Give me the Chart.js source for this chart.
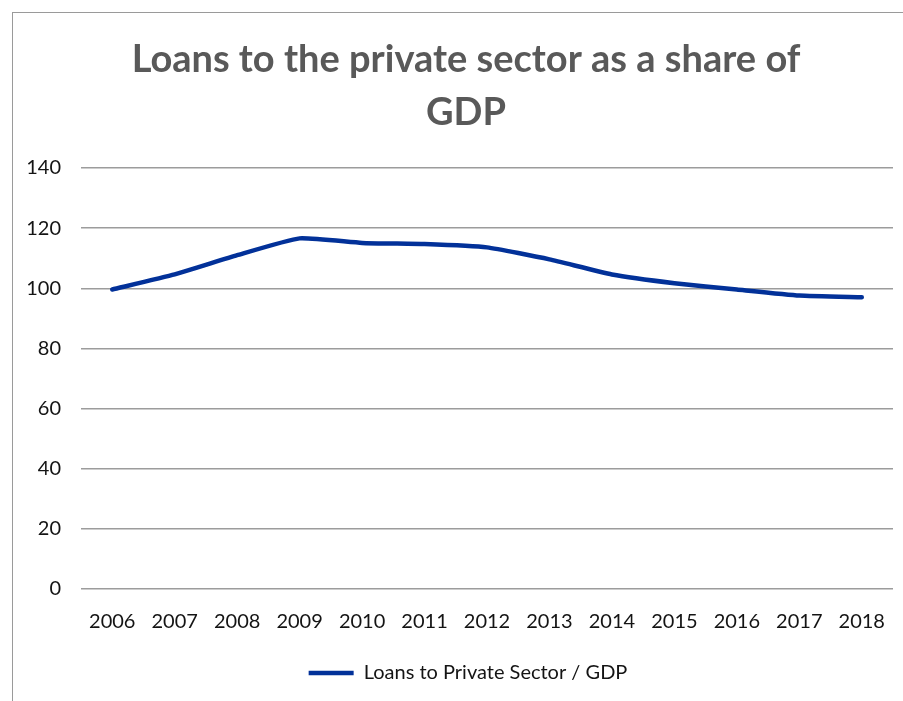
<!DOCTYPE html>
<html>
<head>
<meta charset="utf-8">
<script src="https://cdn.jsdelivr.net/npm/chart.js@4.4.1/dist/chart.umd.min.js"></script>
<style>
  html, body { margin: 0; padding: 0; background: #fff; }
  #wrap { position: relative; width: 903px; height: 701px; overflow: hidden; }
  #frame {
    position: absolute; left: 12px; top: 12px; right: -4px; bottom: -4px;
    border-left: 1.5px solid #9a9a9a; border-top: 1.5px solid #9a9a9a;
    pointer-events: none;
  }
  canvas { position: absolute; left: 0; top: 0; }
</style>
</head>
<body>
<div id="wrap">
  <!-- canvas runs past the right edge so the legend centres where the frame's middle is -->
  <canvas id="loans" width="941" height="701"></canvas>
  <div id="frame"></div>
</div>
<script>
const years = ['2006', '2007', '2008', '2009', '2010', '2011', '2012', '2013', '2014', '2015', '2016', '2017', '2018'];
const loansToGdp = [99.6, 104.6, 111.0, 116.6, 115.1, 114.7, 113.6, 109.6, 104.6, 101.7, 99.6, 97.6, 97.0];
const titleLines = ['Loans to the private sector as a share of', 'GDP'];
const seriesName = 'Loans to Private Sector / GDP';

const BLUE = '#023199';
const GRID = '#9c9c9c';
const TEXT = '#141414';

// Two-line heading
const headingPlugin = {
  id: 'heading',
  afterDraw(chart) {
    const c = chart.ctx;
    c.save();
    c.fillStyle = '#595959';
    c.font = 'bold 38px Lato';
    c.textAlign = 'center';
    c.textBaseline = 'middle';
    c.fillText(titleLines[0], 466, 60);
    c.fillText(titleLines[1], 466, 113);
    c.restore();
  }
};

const ctx = document.getElementById('loans');
new Chart(ctx, {
  type: 'line',
  data: {
    labels: years,
    datasets: [{
      label: seriesName,
      data: loansToGdp,
      borderColor: BLUE,
      backgroundColor: BLUE,
      borderWidth: 4.5,
      pointRadius: 0,
      tension: 0.15,
      borderCapStyle: 'round'
    }]
  },
  options: {
    responsive: false,
    animation: false,
    layout: { padding: { left: 0, right: 5, top: 168, bottom: 8 } },
    plugins: {
      legend: {
        position: 'bottom',
        labels: {
          color: TEXT,
          font: { family: 'Lato', size: 20 },
          usePointStyle: true,
          pointStyle: 'line',
          pointStyleWidth: 45,
          padding: 8
        }
      },
      tooltip: { enabled: false }
    },
    scales: {
      x: {
        offset: true,
        grid: { display: false, drawTicks: false },
        border: { display: false },
        ticks: { color: TEXT, font: { family: 'Lato', size: 20 }, padding: 21, maxRotation: 0 }
      },
      y: {
        min: 0,
        max: 140,
        ticks: { stepSize: 20, color: TEXT, font: { family: 'Lato', size: 20 }, padding: 20 },
        grid: { color: GRID, lineWidth: 1.5, drawTicks: false },
        border: { display: false },
        afterFit: scale => { scale.width = 81; }
      },
      // empty spacer axis keeping the plot's right edge at x=893
      spacer: {
        type: 'linear',
        position: 'right',
        grid: { display: false, drawTicks: false },
        border: { display: false },
        ticks: { display: false },
        afterFit: scale => { scale.width = 43; }
      }
    }
  },
  plugins: [headingPlugin]
});
</script>
</body>
</html>
